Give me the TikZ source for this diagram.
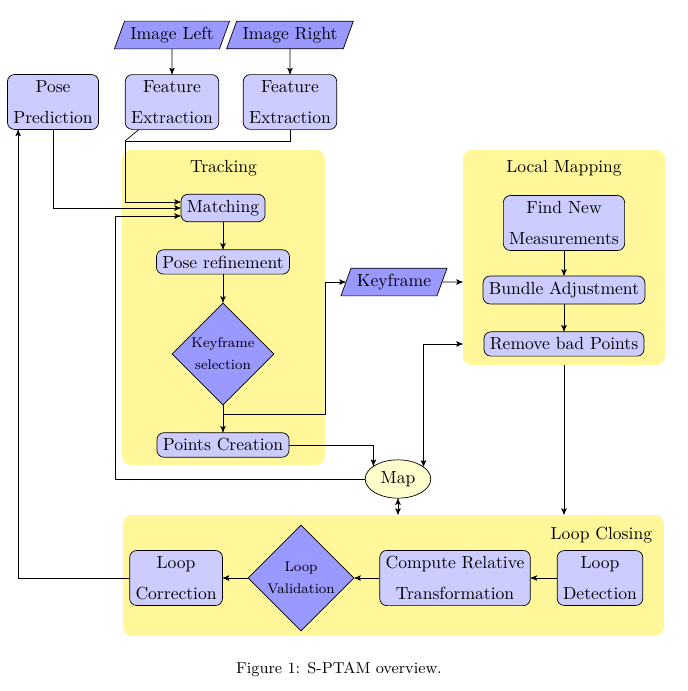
\documentclass[tikz,border=0pt]{standalone}
\usepackage{amsmath, amssymb}
\usepackage{tikz}
\usepackage{color}
\usetikzlibrary{shapes.geometric, positioning, arrows}

\definecolor{stageyellow}{RGB}{255,247,153}

\begin{document}
\begin{tikzpicture}[x=0.02cm, y=-0.02cm, >=stealth', on grid, auto,
        block/.style={draw, rectangle, rounded corners=4pt, fill=blue!20, align=center},
        io/.style={draw, trapezium, trapezium left angle=70, trapezium right angle=110, fill=blue!40},
        decision/.style={draw, diamond, aspect=1, fill=blue!40, inner sep=1pt, align=center, font=\footnotesize},
        stage/.style={rectangle, rounded corners=5pt, fill=stageyellow}]
        \useasboundingbox (0,0) rectangle (688,691);

        \node[stage, minimum width=4.06cm, minimum height=6.3cm] (trk) at (223.5,307.5) {};
        \node[stage, minimum width=4.04cm, minimum height=4.3cm] (lm) at (564,257.5) {};
        \node[stage, minimum width=10.82cm, minimum height=2.42cm] (lc) at (393.5,575.5) {};
        \node (trktitle) at ([yshift=-0.38cm]trk.north) {Tracking};
        \node (lmtitle) at ([yshift=-0.38cm]lm.north) {Local Mapping};
        \node (lctitle) [anchor=north east] at ([xshift=-0.12cm, yshift=-0.12cm]lc.north east) {Loop Closing};

        \node[io] (imgl) at (172,35) {Image Left};
        \node[io] (imgr) [right=2.36cm of imgl] {Image Right};
        \node[block] (featl) [below=1.34cm of imgl] {Feature\\[5.6pt] Extraction};
        \node[block] (featr) [below=1.34cm of imgr] {Feature\\[5.6pt] Extraction};
        \node[block] (pose) [left=2.38cm of featl] {Pose\\[5.6pt] Prediction};

        \node[block] (match) at (223,208) {Matching};
        \node[block] (refine) [below=1.08cm of match] {Pose refinement};
        \node[decision] (kfsel) [below=1.84cm of refine] {Keyframe\\[3pt] selection};
        \node[block] (points) [below=1.82cm of kfsel] {Points Creation};

        \node[io] (kf) at (394,282) {Keyframe};

        \node[block] (find) at (564,223) {Find New\\[5.6pt] Measurements};
        \node[block] (ba) [below=1.34cm of find] {Bundle Adjustment};
        \node[block] (remove) [below=1.08cm of ba] {Remove bad Points};

        \node[draw, ellipse, fill=yellow!20] (map) at (398,479) {Map};

        \node[block] (ldet) at (600,578) {Loop\\[5.6pt] Detection};
        \node[block] (crt) [left=2.9cm of ldet] {Compute Relative\\[5.6pt] Transformation};
        \node[decision] (lval) [left=3.08cm of crt] {Loop\\[3pt] Validation};
        \node[block] (lcorr) [left=2.5cm of lval] {Loop\\[5.6pt] Correction};

        \node[font=\small] (caption) at (339,669) {Figure 1: S-PTAM overview.};

        \path[->]
        (imgl) edge (featl)
        (imgr) edge (featr)
        (match) edge (refine)
        (refine) edge (kfsel)
        (kfsel) edge (points)
        (kf) edge (kf -| lm.west)
        (find) edge (ba)
        (ba) edge (remove)
        (ldet) edge (crt)
        (crt) edge (lval)
        (lval) edge (lcorr);

        \coordinate (fejoin) at (125,141);
        \draw (featl) -- (fejoin);
        \draw (featr) |- (fejoin);
        \draw[->] (fejoin) |- ([yshift=0.12cm]match.west);
        \draw[->] (pose) |- (match);
        \draw[->] (map.west) -- ++(-250,0) |- ([yshift=-0.16cm]match.west);
        \draw[->] (kfsel.south) -- ++(0,9) -| ([xshift=-0.4cm]kf.west) -- (kf.west);
        \draw[->] (points) -| (map.152);
        \draw[<->] (map.26) |- (lm.west |- remove);
        \draw[<->] (map) -- (map |- lc.north);
        \draw[->] (lm) -- (lm |- lc.north);
        \draw[->] (lcorr) -| ([xshift=0.22cm]pose.south west);
    \end{tikzpicture}
\end{document}
